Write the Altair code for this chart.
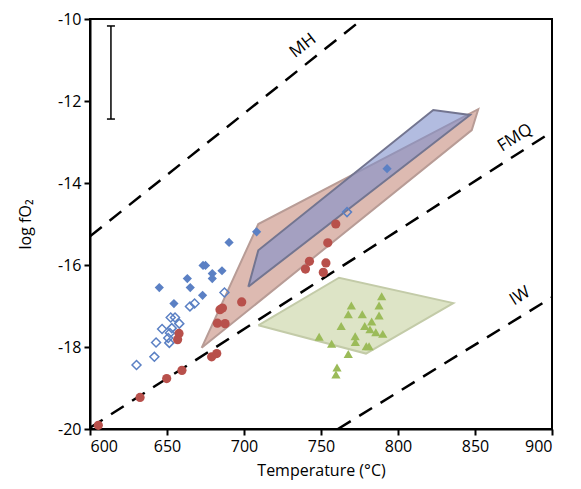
import altair as alt
import pandas as pd

# ---- data ----
red_T = [605.4, 632.5, 649.8, 659.7, 679.0, 682.3, 657.8, 656.9, 682.7, 687.7,
         684.4, 686.0, 698.5, 739.9, 742.5, 751.5, 753.2, 754.4, 759.6]
red_y = [-19.91, -19.23, -18.77, -18.57, -18.24, -18.16, -17.67, -17.82, -17.42, -17.43,
         -17.09, -17.05, -16.90, -16.10, -15.91, -16.18, -15.95, -15.46, -15.00]

bluef_T = [708.2, 690.3, 645.0, 663.2, 665.1, 673.4, 675.0, 679.4, 679.4, 685.7,
           673.1, 654.5, 792.9]
bluef_y = [-15.19, -15.45, -16.55, -16.33, -16.55, -16.01, -16.01, -16.21, -16.33, -16.14,
           -16.74, -16.94, -13.65]

blueo_T = [630.2, 641.8, 642.9, 651.5, 650.8, 651.9, 646.8, 653.1, 658.0, 652.4,
           655.2, 664.9, 667.9, 687.3, 766.9]
blueo_y = [-18.44, -18.24, -17.89, -17.90, -17.78, -17.66, -17.56, -17.54, -17.43, -17.28,
           -17.28, -17.01, -16.94, -16.67, -14.71]

green_T = [789.4, 769.7, 787.7, 767.7, 776.8, 787.7, 782.9, 763.1, 778.4, 781.8,
           785.6, 790.1, 772.2, 772.3, 748.8, 756.9, 779.4, 781.2, 767.7, 760.4, 759.7]
green_y = [-16.76, -16.99, -16.99, -17.20, -17.20, -17.23, -17.38, -17.49, -17.49, -17.57,
           -17.64, -17.68, -17.74, -17.88, -17.75, -17.92, -17.98, -17.98, -18.17, -18.50, -18.67]

pink_T = [672.5, 709.3, 852.1, 847.9, 672.5]
pink_y = [-18.02, -15.00, -12.20, -12.71, -18.02]

bluepoly_T = [702.8, 709.3, 822.9, 846.8, 702.8]
bluepoly_y = [-16.53, -15.64, -12.22, -12.34, -16.53]

greenpoly_T = [709.3, 761.7, 835.9, 779.2, 709.3]
greenpoly_y = [-17.47, -16.31, -16.93, -18.16, -17.47]

buffer_names = ["MH", "MH", "FMQ", "FMQ", "IW", "IW"]
buffer_T = [600, 777.0, 600, 900, 761, 900]
buffer_y = [-15.3, -10.0, -19.97, -12.75, -20.0, -16.79]

label_text = ["MH", "FMQ", "IW"]
label_T = [738.3, 876.0, 879.2]
label_y = [-10.65, -12.90, -16.76]

err_T = 613.6
err_lo = -12.44
err_hi = -10.17

x_ticks = [600, 650, 700, 750, 800, 850, 900]
y_ticks = [-20, -18, -16, -14, -12, -10]

FONT = "Open Sans"

x_scale = alt.Scale(domain=[600, 900], nice=False, zero=False)
y_scale = alt.Scale(domain=[-20, -10], nice=False, zero=False)


def X(field="T"):
    return alt.X(f"{field}:Q", scale=x_scale,
                 axis=alt.Axis(values=x_ticks, title="Temperature (°C)",
                               labelExpr="datum.value", titlePadding=8))


def Y(field="y"):
    return alt.Y(f"{field}:Q", scale=y_scale,
                 axis=alt.Axis(values=y_ticks, title="log fO₂",
                               labelExpr="datum.value", titlePadding=24))


def poly_df(T, y):
    return pd.DataFrame({"T": T, "y": y, "i": list(range(len(T)))})


pink = alt.Chart(poly_df(pink_T, pink_y)).mark_line(
    fill="#ddbab1", stroke="#b89c96", strokeWidth=2
).encode(x=X(), y=Y(), order="i:Q")

bluepoly = alt.Chart(poly_df(bluepoly_T, bluepoly_y)).mark_line(
    fill="#7f8fcc", fillOpacity=0.6, stroke="#737590", strokeWidth=2
).encode(x=X(), y=Y(), order="i:Q")

greenpoly = alt.Chart(poly_df(greenpoly_T, greenpoly_y)).mark_line(
    fill="#dde4c6", stroke="#c3cba8", strokeWidth=2
).encode(x=X(), y=Y(), order="i:Q")

buf_df = pd.DataFrame({"name": buffer_names, "T": buffer_T, "y": buffer_y})
buffers = alt.Chart(buf_df).mark_line(
    color="black", strokeWidth=2.5, strokeDash=[15, 10], clip=True
).encode(x=X(), y=Y(), detail="name:N")

lab_df = pd.DataFrame({"text": label_text, "T": label_T, "y": label_y,
                       "angle": [322, 328, 328]})
labels = alt.Chart(lab_df).mark_text(
    font=FONT, fontSize=17, color="black", align="center", baseline="middle"
).encode(x=X(), y=Y(), text="text:N", angle=alt.Angle("angle:Q", scale=None))

err_df = pd.DataFrame({"T": [err_T], "lo": [err_lo], "hi": [err_hi],
                       "Tl": [err_T - 2.6], "Tr": [err_T + 2.6]})
err_v = alt.Chart(err_df).mark_rule(color="black", strokeWidth=1.5).encode(
    x=X(), y=Y("lo"), y2="hi:Q")
err_c1 = alt.Chart(err_df).mark_rule(color="black", strokeWidth=1.5).encode(
    x=X("Tl"), x2="Tr:Q", y=Y("lo"))
err_c2 = alt.Chart(err_df).mark_rule(color="black", strokeWidth=1.5).encode(
    x=X("Tl"), x2="Tr:Q", y=Y("hi"))

red = alt.Chart(pd.DataFrame({"T": red_T, "y": red_y})).mark_point(
    shape="circle", filled=True, size=85, color="#b8504b", opacity=1
).encode(x=X(), y=Y())

bluef = alt.Chart(pd.DataFrame({"T": bluef_T, "y": bluef_y})).mark_point(
    shape="diamond", filled=True, size=85, color="#5b80c4", opacity=1
).encode(x=X(), y=Y())

blueo = alt.Chart(pd.DataFrame({"T": blueo_T, "y": blueo_y})).mark_point(
    shape="diamond", filled=False, size=80, color="#5b80c4", strokeWidth=1.5, opacity=1
).encode(x=X(), y=Y())

green = alt.Chart(pd.DataFrame({"T": green_T, "y": green_y})).mark_point(
    shape="triangle-up", filled=True, size=85, color="#9bbb59", opacity=1
).encode(x=X(), y=Y())

chart = alt.layer(
    pink, bluepoly, greenpoly, buffers, labels, err_v, err_c1, err_c2,
    blueo, bluef, red, green
).properties(
    width=462, height=410,
    autosize=alt.AutoSizeParams(type="none"),
    padding={"left": 82, "top": 11, "right": 20, "bottom": 55},
).configure_view(
    stroke="black", strokeWidth=2
).configure_axis(
    domainColor="black", domainWidth=2, tickColor="black", tickWidth=2, tickSize=6,
    labelFont=FONT, labelFontSize=16, labelColor="black", labelPadding=3,
    titleFont=FONT, titleFontSize=16, titleFontWeight="normal", titleColor="black",
    grid=False
)

chart.save("out.html", embed_options={"renderer": "svg", "actions": False})
